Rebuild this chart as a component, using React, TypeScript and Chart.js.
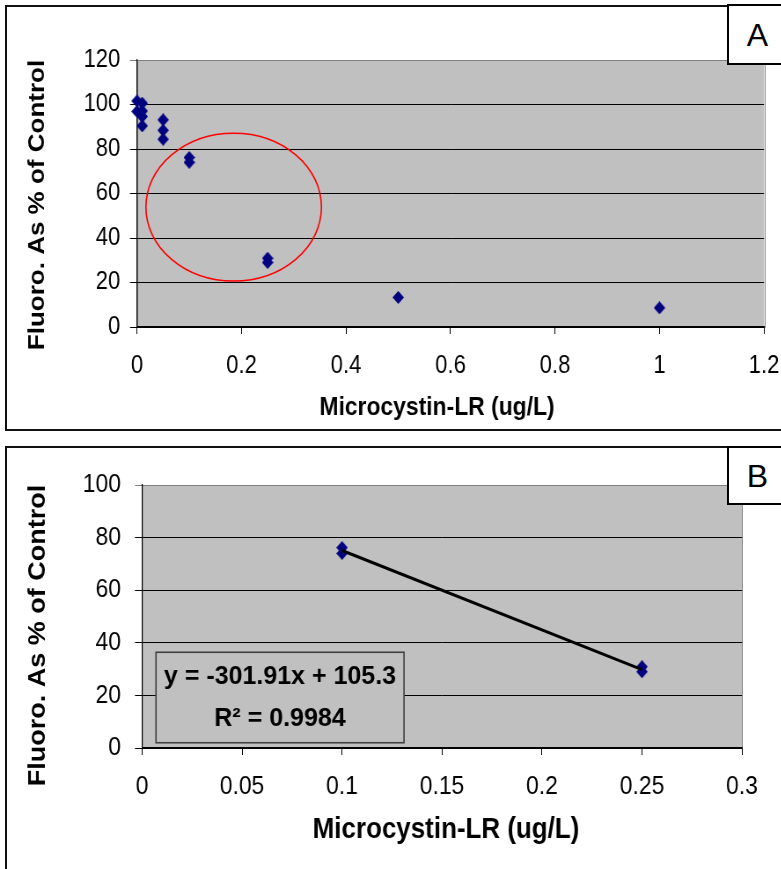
import React, { useEffect, useRef } from 'react';
import { Chart, registerables } from 'chart.js';

Chart.register(...registerables);

// ---------- Panel A data ----------
const concA = [0, 0, 0.01, 0.01, 0.01, 0.01, 0.05, 0.05, 0.05, 0.1, 0.1, 0.25, 0.25, 0.5, 1];
const fluoroA = [101.6, 96.9, 100.6, 97.1, 94.6, 90.4, 93.1, 88.4, 84.4, 76.2, 74.0, 30.9, 29.0, 13.3, 8.6];
const xTicksA = [0, 0.2, 0.4, 0.6, 0.8, 1, 1.2];
const xTickLabelsA = ['0', '0.2', '0.4', '0.6', '0.8', '1', '1.2'];
const yTicksA = [0, 20, 40, 60, 80, 100, 120];
const yTickLabelsA = ['0', '20', '40', '60', '80', '100', '120'];
const highlightA = { cx: 0.185, cy: 53.9, rx: 0.168, ry: 33.2 };

// ---------- Panel B data ----------
const concB = [0.1, 0.1, 0.25, 0.25];
const fluoroB = [76.2, 74.0, 30.9, 29.0];
const xTicksB = [0, 0.05, 0.1, 0.15, 0.2, 0.25, 0.3];
const xTickLabelsB = ['0', '0.05', '0.1', '0.15', '0.2', '0.25', '0.3'];
const yTicksB = [0, 20, 40, 60, 80, 100];
const yTickLabelsB = ['0', '20', '40', '60', '80', '100'];
const trendSlope = -301.91;
const trendIntercept = 105.3;
const trendR2 = 0.9984;
const trendRange = [0.1, 0.25];

const xTitle = 'Microcystin-LR (ug/L)';
const yTitle = 'Fluoro. As % of Control';

const FONT = "'Liberation Sans', Arial, Helvetica, sans-serif";
const MARKER = '#000080';

function makeDiamond(w: number, h: number) {
  const c = document.createElement('canvas');
  c.width = w;
  c.height = h;
  const g = c.getContext('2d')!;
  g.fillStyle = MARKER;
  g.beginPath();
  g.moveTo(w / 2, 0);
  g.lineTo(w, h / 2);
  g.lineTo(w / 2, h);
  g.lineTo(0, h / 2);
  g.closePath();
  g.fill();
  return c;
}

const plotBg = {
  id: 'plotBg',
  beforeDraw(chart: any) {
    const { ctx, chartArea: a } = chart;
    ctx.save();
    ctx.fillStyle = '#C0C0C0';
    ctx.fillRect(a.left, a.top, a.right - a.left, a.bottom - a.top);
    ctx.strokeStyle = '#808080';
    ctx.lineWidth = 1;
    ctx.strokeRect(Math.round(a.left) + 0.5, Math.round(a.top) + 0.5, Math.round(a.right - a.left), Math.round(a.bottom - a.top));
    ctx.restore();
  },
};

const axisTitles = {
  id: 'axisTitles',
  afterDraw(chart: any, _args: any, o: any) {
    const { ctx, chartArea: a } = chart;
    ctx.save();
    ctx.fillStyle = '#000';
    ctx.textAlign = 'center';
    ctx.textBaseline = 'middle';
    ctx.font = `bold ${o.xSize}px ${FONT}`;
    ctx.fillText(o.xText, o.xx, a.bottom + o.xdy);
    ctx.font = `bold ${o.ySize}px ${FONT}`;
    ctx.translate(o.yx, (a.top + a.bottom) / 2 + o.ydy);
    ctx.rotate(-Math.PI / 2);
    ctx.fillText(o.yText, 0, 0);
    ctx.restore();
  },
};

const ellipsePlugin = {
  id: 'ellipseMark',
  afterDraw(chart: any, _args: any, o: any) {
    if (!o || !o.show) return;
    const { ctx, scales } = chart;
    const cx = scales.x.getPixelForValue(o.cx);
    const cy = scales.y.getPixelForValue(o.cy);
    const rx = scales.x.getPixelForValue(o.cx + o.rx) - cx;
    const ry = cy - scales.y.getPixelForValue(o.cy + o.ry);
    ctx.save();
    ctx.strokeStyle = '#FF0000';
    ctx.lineWidth = 1.6;
    ctx.beginPath();
    ctx.ellipse(cx, cy, rx, ry, 0, 0, Math.PI * 2);
    ctx.stroke();
    ctx.restore();
  },
};

const eqBox = {
  id: 'eqBox',
  afterDraw(chart: any, _args: any, o: any) {
    if (!o || !o.show) return;
    const { ctx, scales } = chart;
    const x0 = scales.x.getPixelForValue(o.x0);
    const x1 = scales.x.getPixelForValue(o.x1);
    const y0 = scales.y.getPixelForValue(o.y1);
    const y1 = scales.y.getPixelForValue(o.y0);
    ctx.save();
    ctx.fillStyle = '#C0C0C0';
    ctx.fillRect(x0, y0, x1 - x0, y1 - y0);
    ctx.strokeStyle = '#404040';
    ctx.lineWidth = 1.6;
    ctx.strokeRect(x0, y0, x1 - x0, y1 - y0);
    ctx.fillStyle = '#000';
    ctx.textAlign = 'center';
    ctx.textBaseline = 'middle';
    ctx.font = `bold ${o.size}px ${FONT}`;
    const cx = (x0 + x1) / 2;
    const h = y1 - y0;
    const lines = [[o.line1, 0.28], [o.line2, 0.74]];
    for (const [t, f] of lines) {
      ctx.save();
      ctx.translate(cx, y0 + h * (f as number));
      ctx.scale(1 / o.squeeze, 1);
      ctx.fillText(t as string, 0, 0);
      ctx.restore();
    }
    ctx.restore();
  },
};

// p.area is given in page pixels; the canvas is drawn wider and squeezed horizontally by p.s
function buildConfig(p: any) {
  const s = p.s;
  const W = Math.round(p.w / s);
  const left = p.area.left / s;
  const right = p.area.right / s;
  const diamond = makeDiamond(Math.round(11 / s), 13);
  const datasets: any[] = [];
  if (p.trend) {
    datasets.push({
      type: 'line',
      data: p.trend,
      borderColor: '#000',
      borderWidth: 3,
      pointRadius: 0,
      fill: false,
    });
  }
  datasets.push({
    type: 'scatter',
    data: p.xs.map((x: number, i: number) => ({ x, y: p.ys[i] })),
    pointStyle: diamond,
    pointRadius: 6,
    pointBackgroundColor: MARKER,
    pointBorderColor: MARKER,
    clip: false,
  });
  const yMax = p.yTicks[p.yTicks.length - 1];
  return {
    type: 'scatter',
    data: { datasets },
    plugins: [plotBg, axisTitles, ellipsePlugin, eqBox],
    options: {
      animation: false,
      responsive: false,
      devicePixelRatio: 1,
      events: [],
      layout: { padding: { left: 0, top: p.area.top, right: W - right, bottom: 0 } },
      plugins: {
        legend: { display: false },
        tooltip: { enabled: false },
        axisTitles: {
          ...p.titles,
          xx: p.titles.xx / s,
          yx: p.titles.yx / s,
        },
        ellipseMark: p.ellipse || { show: false },
        eqBox: p.eq ? { ...p.eq, squeeze: s } : { show: false },
      },
      scales: {
        x: {
          type: 'linear',
          min: p.xTicks[0],
          max: p.xTicks[p.xTicks.length - 1],
          afterBuildTicks: (sc: any) => { sc.ticks = p.xTicks.map((v: number) => ({ value: v })); },
          afterFit: (sc: any) => {
            sc.height = p.h - p.area.bottom;
            sc.paddingLeft = 0;
            sc.paddingRight = 0;
          },
          ticks: {
            autoSkip: false,
            maxRotation: 0,
            padding: p.xPad,
            color: '#000',
            font: { family: FONT, size: p.tickSize },
            callback: (_v: any, i: number) => p.xLabels[i],
          },
          grid: { drawOnChartArea: false, drawTicks: true, tickLength: 7, color: '#000', lineWidth: 1 },
          border: { display: true, color: '#000', width: 1.2 },
        },
        y: {
          type: 'linear',
          min: p.yTicks[0],
          max: yMax,
          afterBuildTicks: (sc: any) => { sc.ticks = p.yTicks.map((v: number) => ({ value: v })); },
          afterFit: (sc: any) => {
            sc.width = left;
            sc.paddingTop = 0;
            sc.paddingBottom = 0;
          },
          ticks: {
            autoSkip: false,
            padding: p.yPad,
            color: '#000',
            font: { family: FONT, size: p.tickSize },
            callback: (_v: any, i: number) => p.yLabels[i],
          },
          grid: {
            drawTicks: true,
            tickLength: 8,
            lineWidth: 1,
            color: (c: any) => (c.tick && c.tick.value === yMax ? '#808080' : '#000'),
          },
          border: { display: true, color: '#000', width: 1.2 },
        },
      },
    },
  };
}

function ChartCanvas({ config, w, h, top, s }: any) {
  const ref = useRef<HTMLCanvasElement>(null);
  const cw = Math.round(w / s);
  useEffect(() => {
    const chart = new Chart(ref.current as HTMLCanvasElement, config);
    return () => chart.destroy();
  }, []);
  return (
    <canvas
      ref={ref}
      width={cw}
      height={h}
      style={{
        position: 'absolute',
        left: 0,
        top,
        width: cw,
        height: h,
        transform: `scaleX(${s})`,
        transformOrigin: 'left top',
      }}
    />
  );
}

const eqLine1 = `y = ${trendSlope}x + ${trendIntercept}`;
const eqLine2 = `R² = ${trendR2}`;

export default function App() {
  const W = 781;
  const sA = 0.88;
  const sB = 0.88;
  const configA = buildConfig({
    s: sA,
    w: W,
    h: 440,
    area: { left: 137, right: 764, top: 60, bottom: 327 },
    xs: concA,
    ys: fluoroA,
    xTicks: xTicksA,
    xLabels: xTickLabelsA,
    yTicks: yTicksA,
    yLabels: yTickLabelsA,
    tickSize: 25,
    xPad: 17,
    yPad: 11,
    titles: { xText: xTitle, yText: yTitle, xSize: 26, ySize: 26, xx: 437, xdy: 81, yx: 38, ydy: 11.5 },
    ellipse: { show: true, ...highlightA },
  });
  const configB = buildConfig({
    s: sB,
    w: W,
    h: 429,
    area: { left: 142, right: 742, top: 45, bottom: 308 },
    xs: concB,
    ys: fluoroB,
    xTicks: xTicksB,
    xLabels: xTickLabelsB,
    yTicks: yTicksB,
    yLabels: yTickLabelsB,
    tickSize: 26,
    xPad: 16,
    yPad: 16,
    trend: trendRange.map((x) => ({ x, y: trendSlope * x + trendIntercept })),
    titles: { xText: xTitle, yText: yTitle, xSize: 29.5, ySize: 27, xx: 446, xdy: 82, yx: 38, ydy: 19 },
    eq: { show: true, x0: 0.007, x1: 0.131, y0: 2.0, y1: 36.4, size: 25, line1: eqLine1, line2: eqLine2 },
  });

  const boxStyle: React.CSSProperties = {
    position: 'absolute',
    left: 727,
    width: 80,
    boxSizing: 'border-box',
    border: '2px solid #000',
    background: '#fff',
    fontFamily: FONT,
    fontSize: 32,
    color: '#000',
  };
  const letterStyle: React.CSSProperties = {
    position: 'absolute',
    left: 0,
    width: 57,
    top: 0,
    bottom: 0,
    display: 'flex',
    alignItems: 'center',
    justifyContent: 'center',
    lineHeight: 1,
  };

  return (
    <div
      style={{
        position: 'fixed',
        left: 0,
        top: 0,
        width: W,
        height: 869,
        overflow: 'hidden',
        background: '#fff',
      }}
    >
      <div style={{ position: 'absolute', left: 5, top: 5, width: 800, height: 426, boxSizing: 'border-box', border: '2px solid #111' }} />
      <div style={{ position: 'absolute', left: 5, top: 446, width: 800, height: 500, boxSizing: 'border-box', border: '2px solid #111' }} />
      <ChartCanvas config={configA} w={W} h={440} top={0} s={sA} />
      <ChartCanvas config={configB} w={W} h={429} top={440} s={sB} />
      <div style={{ ...boxStyle, top: 4, height: 61 }}>
        <div style={letterStyle}>A</div>
      </div>
      <div style={{ ...boxStyle, top: 446, height: 59 }}>
        <div style={letterStyle}>B</div>
      </div>
    </div>
  );
}
